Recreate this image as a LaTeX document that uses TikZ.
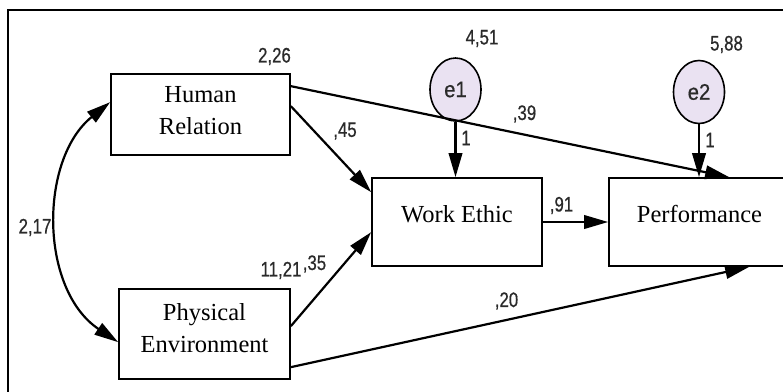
\documentclass[tikz,border=0pt]{standalone}
\usepackage{fontspec}
\setmainfont{Liberation Serif}
\newfontfamily\labfont[FakeStretch=0.8,FakeBold=0.6]{Liberation Sans}
\newfontfamily\errfont[FakeStretch=0.9,FakeBold=0.6]{Liberation Sans}
\usetikzlibrary{arrows.meta,calc,shapes.geometric}
\definecolor{errfill}{HTML}{EAE2F2}
\definecolor{labcol}{HTML}{2A2A2A}
\begin{document}
\begin{tikzpicture}[x=1pt,y=-1pt,
  box/.style={draw, line width=1.7pt, fill=white, inner sep=0pt},
  boxtext/.style={font=\fontsize{24.5}{32}\selectfont, inner sep=0pt, align=center},
  errnode/.style={ellipse, draw, line width=1.6pt, fill=errfill, inner sep=0pt,
    minimum width=51pt, minimum height=63pt, font=\errfont\fontsize{22.5}{22.5}\selectfont, text=labcol},
  lab/.style={font=\labfont\fontsize{21}{21}\selectfont, text=labcol, inner sep=0pt},
  conn/.style={line width=2.2pt, -{Triangle[length=24pt,width=13.5pt]}},
  biconn/.style={line width=2.2pt, {Triangle[length=24pt,width=13.5pt]}-{Triangle[length=24pt,width=13.5pt]}}
]
\clip (0,0) rectangle (783,391);
\fill[white] (0,0) rectangle (783,391);
\draw[line width=1.3pt] (8,395) -- (8,10) -- (790,10);

% boxes
\node[box, minimum width=179pt, minimum height=81pt] (hr) at (200.5,114.5) {};
\node[box, minimum width=171pt, minimum height=90pt] (pe) at (204.5,334) {};
\node[box, minimum width=170pt, minimum height=88pt] (we) at (457,222) {};
\node[box, minimum width=181pt, minimum height=88pt] (perf) at (699.5,222) {};

\node[boxtext] (hrt) at (200.5,111) {Human\\Relation};
\node[boxtext] (pet) at (204.5,328) {Physical\\Environment};
\node[boxtext, anchor=base] (wet) at (457,222.5) {Work Ethic};
\node[boxtext, anchor=base] (perft) at (699.5,222.5) {Performance};

% error terms
\node[errnode] (e1) at (455.5,89.5) {e1};
\node[errnode] (e2) at (699,92) {e2};

% connectors
\draw[conn] ($(hr.north east)+(0,13)$) -- ($(perf.north west)+(121,0)$);
\draw[conn] ($(hr.north east)+(0,33)$) -- ($(we.north west)+(0,15)$);
\draw[conn] ($(pe.north east)+(0,38)$) -- ($(we.north west)+(0,55)$);
\draw[conn] ($(pe.north east)+(0,79)$) -- ($(perf.south west)+(141,0)$);
\draw[conn] (we.east) -- (perf.west);
\draw[conn] (e1.south) -- (e1.south |- we.north);
\draw[conn] (e2.south) -- (e2.south |- perf.north);
\draw[biconn] ($(hr.north west)+(0,29)$) .. controls +(-71,57) and +(-79,-53) .. ($(pe.north west)+(0,54)$);

% labels
\node[lab] (l226) at (274.5,56.5) {2,26};
\node[lab] (l451) at (482,38.5) {4,51};
\node[lab] (l588) at (726.5,44.5) {5,88};
\node[lab] (l39) at (524.5,114) {,39};
\node[lab] (l45) at (345,131) {,45};
\node[lab] (l1a) at (466,138) {1};
\node[lab] (l1b) at (710,140) {1};
\node[lab] (l217) at (35,227.5) {2,17};
\node[lab] (l1121) at (281,270.5) {11,21};
\node[lab] (l35) at (314.5,264) {,35};
\node[lab] (l91) at (561.5,205.5) {,91};
\node[lab] (l20) at (506.5,301) {,20};
\end{tikzpicture}
\end{document}
